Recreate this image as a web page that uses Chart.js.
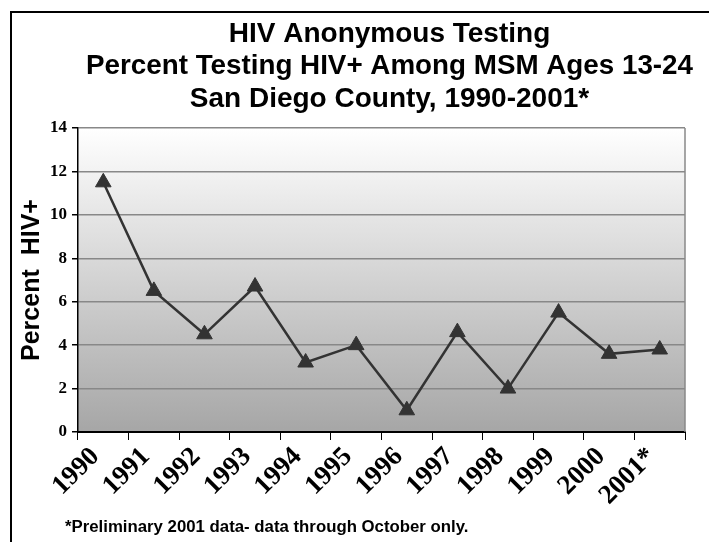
<!DOCTYPE html>
<html>
<head>
<meta charset="utf-8">
<script src="https://cdn.jsdelivr.net/npm/chart.js@4/dist/chart.umd.min.js"></script>
<style>
  html, body { margin: 0; padding: 0; background: #ffffff; }
  #wrap { position: relative; width: 709px; height: 542px; }
  canvas { display: block; }
</style>
</head>
<body>
<div id="wrap"><canvas id="c" width="709" height="542"></canvas></div>
<script>
const categories = ['1990','1991','1992','1993','1994','1995','1996','1997','1998','1999','2000','2001*'];
const percentPositive = [11.5, 6.5, 4.5, 6.7, 3.2, 4.0, 1.0, 4.6, 2.0, 5.5, 3.6, 3.8];
const titleLines = ['HIV Anonymous Testing', 'Percent Testing HIV+ Among MSM Ages 13-24', 'San Diego County, 1990-2001*'];
const yAxisTitle = 'Percent  HIV+';
const footnote = '*Preliminary 2001 data- data through October only.';
const yMin = 0, yMax = 14, yStep = 2;

const decorPlugin = {
  id: 'decor',
  afterLayout(chart) {
    const t = chart.titleBlock;
    if (t) { t.left += 8; t.right += 8; }
  },
  beforeDraw(chart) {
    const { ctx, chartArea: a } = chart;
    ctx.save();
    const g = ctx.createLinearGradient(0, a.top, 0, a.bottom);
    g.addColorStop(0, '#ffffff');
    g.addColorStop(1, '#a6a6a6');
    ctx.fillStyle = g;
    ctx.fillRect(a.left, a.top, a.right - a.left, a.bottom - a.top);
    ctx.restore();
  },
  afterDraw(chart) {
    const { ctx, chartArea: a } = chart;
    ctx.save();
    ctx.strokeStyle = '#000';
    ctx.lineWidth = 2;
    ctx.beginPath();
    ctx.moveTo(11, chart.height + 2);
    ctx.lineTo(11, 12);
    ctx.lineTo(chart.width + 2, 12);
    ctx.stroke();
    ctx.strokeStyle = '#888';
    ctx.lineWidth = 1.5;
    ctx.beginPath();
    ctx.moveTo(a.right, a.top);
    ctx.lineTo(a.right, a.bottom);
    ctx.stroke();
    ctx.fillStyle = '#000';
    ctx.font = 'bold 16.8px "Liberation Sans", Arial, sans-serif';
    ctx.textBaseline = 'middle';
    ctx.textAlign = 'left';
    ctx.fillText(footnote, 65, 527);
    ctx.restore();
  }
};

new Chart(document.getElementById('c'), {
  type: 'line',
  data: {
    labels: categories,
    datasets: [{
      data: percentPositive,
      borderColor: '#333333',
      backgroundColor: '#333333',
      borderWidth: 2.5,
      pointStyle: 'triangle',
      pointRadius: 9,
      pointBorderWidth: 1,
      pointBorderColor: '#333333',
      pointBackgroundColor: '#333333',
      tension: 0,
      fill: false
    }]
  },
  options: {
    responsive: false,
    animation: false,
    layout: { padding: { left: 14, right: 24, top: 14, bottom: 30 } },
    plugins: {
      legend: { display: false },
      tooltip: { enabled: false },
      title: {
        display: true,
        text: titleLines,
        fullSize: false,
        color: '#000',
        font: { family: '"Liberation Sans", Arial, sans-serif', size: 28, weight: 'bold', lineHeight: 1.16 },
        padding: { top: 4, bottom: 12.6 }
      }
    },
    scales: {
      x: {
        offset: true,
        afterFit(scale) { scale.height = 80; },
        grid: { display: true, drawOnChartArea: false, drawTicks: true, tickLength: 8, offset: true, color: '#000', tickColor: '#000' },
        border: { display: true, color: '#000', width: 2 },
        ticks: {
          maxRotation: 45, minRotation: 45, autoSkip: false, padding: 1, labelOffset: -8,
          color: '#000',
          font: { family: '"Liberation Serif", "Times New Roman", serif', size: 27, weight: 'bold' }
        }
      },
      y: {
        min: yMin, max: yMax,
        afterFit(scale) { scale.width = 64; },
        grid: { color: '#888', lineWidth: 1.5, tickLength: 6, tickColor: '#000', drawTicks: true },
        border: { display: true, color: '#000', width: 1.5 },
        ticks: {
          stepSize: yStep, padding: 5, color: '#000',
          font: { family: '"Liberation Serif", "Times New Roman", serif', size: 17, weight: 'bold' }
        },
        title: {
          display: true, text: yAxisTitle, color: '#000',
          font: { family: '"Liberation Sans", Arial, sans-serif', size: 25, weight: 'bold' },
          padding: { top: 3, bottom: 0 }
        }
      }
    }
  },
  plugins: [decorPlugin]
});
</script>
</body>
</html>
